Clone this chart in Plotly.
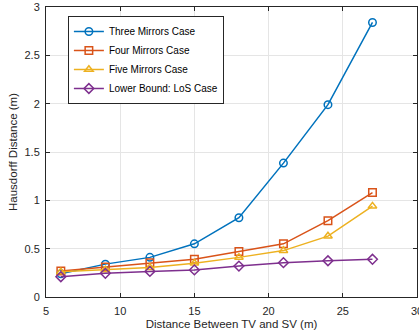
import plotly.graph_objects as go

x = [6, 9, 12, 15, 18, 21, 24, 27]
three = [0.24, 0.34, 0.41, 0.55, 0.82, 1.385, 1.99, 2.84]
four = [0.27, 0.31, 0.355, 0.39, 0.47, 0.55, 0.79, 1.08]
five = [0.26, 0.28, 0.305, 0.35, 0.41, 0.48, 0.63, 0.94]
los = [0.21, 0.245, 0.265, 0.28, 0.32, 0.355, 0.375, 0.39]

names = ["Three Mirrors Case", "Four Mirrors Case", "Five Mirrors Case", "Lower Bound: LoS Case"]
colors = ["#0072BD", "#D95319", "#EDB120", "#7E2F8E"]
symbols = ["circle-open", "square-open", "triangle-up-open", "diamond-open"]
series = [three, four, five, los]

fig = go.Figure()
for name, ys, c, s in zip(names, series, colors, symbols):
    fig.add_trace(go.Scatter(
        x=x, y=ys, name=name, mode="lines+markers",
        line=dict(color=c, width=1.5),
        marker=dict(symbol=s, size=7.5, color=c, line=dict(width=1.5, color=c)),
    ))

axis_common = dict(
    showline=True, linecolor="#262626", linewidth=1, mirror="ticks",
    ticks="inside", ticklen=4, tickcolor="#262626",
    showgrid=True, gridcolor="#E5E5E5", gridwidth=1, zeroline=False,
    automargin=False, ticklabeloverflow="allow",
    tickfont=dict(family="Liberation Sans, Arial", size=11, color="#262626"),
)

fig.update_layout(
    width=419, height=335,
    margin=dict(l=46, r=2, t=7, b=38, pad=0),
    paper_bgcolor="white", plot_bgcolor="white",
    font=dict(family="Liberation Sans, Arial", size=10, color="#262626"),
    xaxis=dict(range=[5, 30], tickvals=[5, 10, 15, 20, 25, 30],
               ticklabelstandoff=4,
               title=dict(text="Distance Between TV and SV (m)", font=dict(size=11.5), standoff=3),
               **axis_common),
    yaxis=dict(range=[0, 3], tickvals=[0, 0.5, 1, 1.5, 2, 2.5, 3],
               ticktext=["0", "0.5", "1", "1.5", "2", "2.5", "3"],
               ticklabelstandoff=3,
               title=dict(text="Hausdorff Distance (m)", font=dict(size=11.5), standoff=4),
               **axis_common),
    legend=dict(x=0.059, y=0.969, xanchor="left", yanchor="top",
                bgcolor="white", bordercolor="#262626", borderwidth=1,
                font=dict(size=10, color="#000000"), tracegroupgap=0,
                itemwidth=30),
    showlegend=True,
)

fig.write_html("out.html", config={"displayModeBar": False},
               post_script="document.body.style.margin='0';document.body.style.padding='0';")
